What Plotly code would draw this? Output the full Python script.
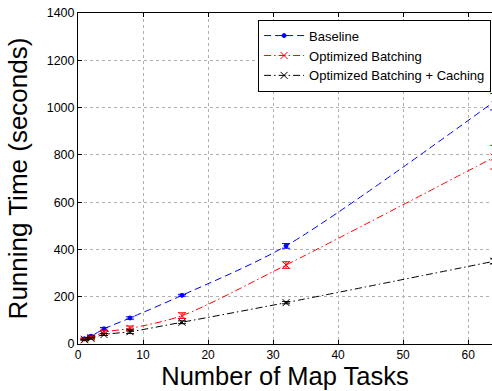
import plotly.graph_objects as go

map_tasks = [1, 2, 4, 8, 16, 32, 64]
baseline = [22, 33, 64, 110, 206, 415, 1025]
baseline_err = [3, 4, 6, 5, 4, 10, 35]
batching = [20, 27, 50, 66, 120, 334, 790]
batching_err = [3, 5, 6, 10, 12, 14, 50]
caching = [18, 24, 40, 52, 92, 175, 350]
caching_err = [2, 3, 4, 8, 6, 5, 10]

names = ["Baseline", "Optimized Batching", "Optimized Batching + Caching"]
FONT = "Liberation Sans, Arial, sans-serif"

fig = go.Figure()
series = [
    (names[0], baseline, baseline_err, "#0000ff", "7px,4px", "circle", 4),
    (names[1], batching, batching_err, "#ff0000", "7px,3px,1.5px,3px", "x-thin", 7),
    (names[2], caching, caching_err, "#000000", "7px,3px,1.5px,3px", "x-thin", 7),
]
for name, ys, errs, color, dash, sym, msize in series:
    fig.add_trace(go.Scatter(
        x=map_tasks, y=ys, name=name, mode="lines+markers",
        line=dict(color=color, width=1, dash=dash, shape="spline", smoothing=0.8),
        marker=dict(symbol=sym, size=msize, color=color,
                    line=dict(color=color, width=1)),
        error_y=dict(type="data", array=errs, visible=True, color=color,
                     thickness=1, width=4),
    ))

fig.update_layout(
    width=492, height=391,
    margin=dict(l=77.5, r=0, t=13.3, b=47),
    paper_bgcolor="white", plot_bgcolor="white",
    font=dict(family=FONT, size=12.5, color="black"),
    showlegend=True,
    legend=dict(
        x=0.435, y=0.98, xanchor="left", yanchor="top",
        bgcolor="white", bordercolor="black", borderwidth=1,
        font=dict(family=FONT, size=13, color="black"),
        tracegroupgap=0, itemwidth=40,
    ),
    xaxis=dict(
        range=[0, 63.67], tickvals=[0, 10, 20, 30, 40, 50, 60],
        showline=True, linecolor="black", linewidth=1, mirror="ticks",
        ticks="inside", ticklen=4, tickcolor="black",
        showgrid=True, gridcolor="#b0b0b0", griddash="dot", gridwidth=1,
        zeroline=False,
        title=dict(text="Number of Map Tasks", font=dict(family=FONT, size=25.5),
                   standoff=5),
        tickfont=dict(family=FONT, size=12),
    ),
    yaxis=dict(
        range=[0, 1400], tickvals=[0, 200, 400, 600, 800, 1000, 1200, 1400],
        showline=True, linecolor="black", linewidth=1, mirror=False,
        ticks="inside", ticklen=4, tickcolor="black",
        showgrid=True, gridcolor="#b0b0b0", griddash="dot", gridwidth=1,
        zeroline=False,
        title=dict(text="Running Time (seconds)", font=dict(family=FONT, size=26),
                   standoff=11),
        tickfont=dict(family=FONT, size=12.5),
    ),
)

fig.write_html("out.html")
